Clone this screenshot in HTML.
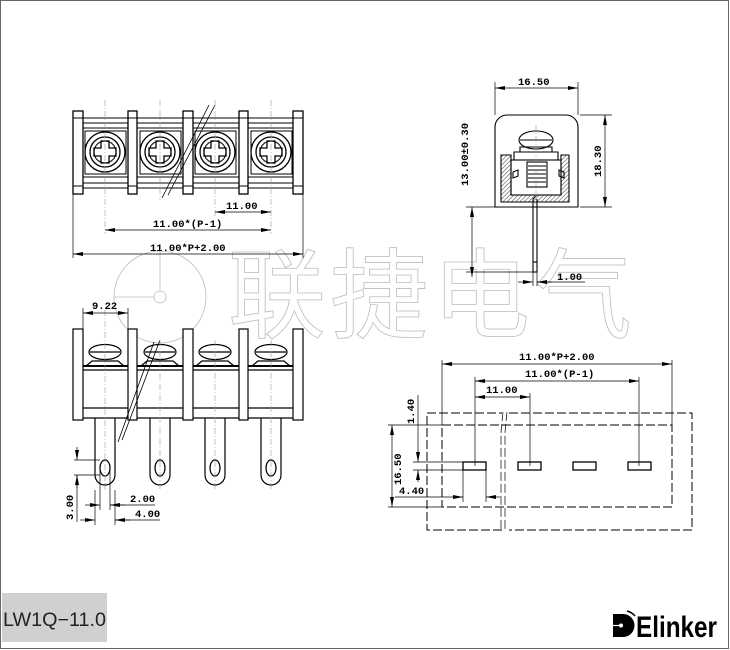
<!DOCTYPE html>
<html><head><meta charset="utf-8"><style>
html,body{margin:0;padding:0;background:#fff}
svg{display:block}
.d{font-family:"Liberation Mono",monospace;font-weight:bold;font-size:10.5px;fill:#000}
</style></head><body>
<svg width="730" height="650" viewBox="0 0 730 650" xmlns="http://www.w3.org/2000/svg">
<defs>
<marker id="a" viewBox="0 0 10 4" refX="10" refY="2" markerWidth="10" markerHeight="4" orient="auto-start-reverse" markerUnits="userSpaceOnUse"><path d="M0,0L10,2L0,4z" fill="#000"/></marker>
<pattern id="h" width="3" height="3" patternUnits="userSpaceOnUse" patternTransform="rotate(45)"><rect width="3" height="3" fill="#fff"/><line x1="0" y1="0" x2="0" y2="3" stroke="#555" stroke-width="1.2"/></pattern>
</defs>
<rect x="0.5" y="0.5" width="728" height="648" fill="none" stroke="#666" stroke-width="1"/>

<!-- watermark -->
<g fill="none" stroke="#bbb" stroke-width="0.8">
<circle cx="160" cy="297" r="46"/><circle cx="160" cy="297" r="6"/>
<line x1="160" y1="250" x2="160" y2="291"/><line x1="114" y1="297" x2="154" y2="297"/>
</g>
<text x="228" y="330" font-family="'Noto Sans CJK SC',sans-serif" font-size="98" fill="#fff" stroke="#bbb" stroke-width="0.8" letter-spacing="4">联捷电气</text>

<!-- TOP LEFT VIEW -->
<g stroke="#000" fill="none" stroke-width="1">
<line x1="83" y1="118" x2="293" y2="118"/><line x1="83" y1="123" x2="293" y2="123"/>
<line x1="83" y1="128" x2="293" y2="128"/>
<line x1="83" y1="177" x2="293" y2="177"/><line x1="83" y1="183" x2="293" y2="183"/>
<line x1="83" y1="188" x2="293" y2="188"/>
<g stroke-width="1.3">
<rect x="73" y="111" width="10" height="83" fill="#fff"/><rect x="128" y="111" width="9" height="83" fill="#fff"/>
<rect x="183" y="111" width="10" height="83" fill="#fff"/><rect x="239" y="111" width="9" height="83" fill="#fff"/>
<rect x="293" y="111" width="10" height="83" fill="#fff"/>
</g>
<line x1="73" y1="118" x2="83" y2="118"/><line x1="73" y1="186" x2="83" y2="186"/>
<line x1="128" y1="118" x2="137" y2="118"/><line x1="128" y1="186" x2="137" y2="186"/>
<line x1="183" y1="118" x2="193" y2="118"/><line x1="183" y1="186" x2="193" y2="186"/>
<line x1="239" y1="118" x2="248" y2="118"/><line x1="239" y1="186" x2="248" y2="186"/>
<line x1="293" y1="118" x2="303" y2="118"/><line x1="293" y1="186" x2="303" y2="186"/>
<g id="sc">
<rect x="85" y="131" width="41" height="43"/>
<circle cx="105" cy="152" r="20" stroke-width="1.3"/>
<circle cx="105" cy="152" r="15" stroke-width="1.3"/>
<circle cx="105" cy="152" r="11"/>
<path d="M101,141h8v7h7v8h-7v7h-8v-7h-7v-8h7z" stroke-width="1.3"/>
</g>
<use href="#sc" x="55"/><use href="#sc" x="110"/><use href="#sc" x="166"/>
<path d="M215,105L168,195M209,105L162,198" stroke-width="0.8"/>
</g>
<g stroke="#999" stroke-width="0.6" stroke-dasharray="6,2,1,2" fill="none">
<line x1="105" y1="100" x2="105" y2="234"/><line x1="160" y1="100" x2="160" y2="200"/>
<line x1="215" y1="100" x2="215" y2="216"/><line x1="271" y1="100" x2="271" y2="234"/>
</g>
<g stroke="#000" stroke-width="0.7" fill="none">
<line x1="73" y1="194" x2="73" y2="258"/><line x1="303" y1="194" x2="303" y2="258"/>
<line x1="215" y1="212" x2="271" y2="212" marker-start="url(#a)" marker-end="url(#a)"/>
<line x1="105" y1="230" x2="271" y2="230" marker-start="url(#a)" marker-end="url(#a)"/>
<line x1="73" y1="254" x2="303" y2="254" marker-start="url(#a)" marker-end="url(#a)"/>
</g>
<text class="d" x="226" y="209">11.00</text>
<text class="d" x="153" y="227">11.00*(P-1)</text>
<text class="d" x="150" y="251">11.00*P+2.00</text>

<!-- BOTTOM LEFT VIEW -->
<g stroke="#000" fill="none" stroke-width="1.2">
<line x1="83" y1="366" x2="293" y2="366" stroke-width="2"/><line x1="83" y1="370" x2="293" y2="370"/>
<line x1="83" y1="408" x2="293" y2="408"/><line x1="83" y1="418" x2="293" y2="418"/>
<rect x="73" y="329" width="10" height="91" fill="#fff"/><rect x="128" y="329" width="9" height="91" fill="#fff"/>
<rect x="183" y="329" width="10" height="91" fill="#fff"/><rect x="239" y="329" width="9" height="91" fill="#fff"/>
<rect x="293" y="329" width="10" height="91" fill="#fff"/>
<g id="pn">
<ellipse cx="105" cy="352" rx="16" ry="7.5"/><line x1="90" y1="352" x2="120" y2="352"/>
<path d="M86,366l6,-5h26l6,5" />
<path d="M95,418v57a10,10 0 0 0 20,0v-57"/>
<ellipse cx="105" cy="468" rx="5" ry="8"/>
</g>
<use href="#pn" x="55"/><use href="#pn" x="110"/><use href="#pn" x="166"/>
<path d="M160,340L122,440M154,342L118,442" stroke-width="0.8"/>
</g>
<g stroke="#999" stroke-width="0.6" stroke-dasharray="6,2,1,2">
<line x1="105" y1="310" x2="105" y2="490"/><line x1="160" y1="340" x2="160" y2="490"/>
<line x1="215" y1="340" x2="215" y2="490"/><line x1="271" y1="340" x2="271" y2="490"/>
</g>
<g stroke="#000" stroke-width="0.7" fill="none">
<line x1="83" y1="308" x2="83" y2="329"/><line x1="128" y1="308" x2="128" y2="329"/>
<line x1="83" y1="313" x2="128" y2="313" marker-start="url(#a)" marker-end="url(#a)"/>
<line x1="74" y1="460" x2="100" y2="460"/><line x1="74" y1="475" x2="100" y2="475"/>
<line x1="77" y1="447" x2="77" y2="460" marker-end="url(#a)"/><line x1="77" y1="488" x2="77" y2="475" marker-end="url(#a)"/>
<line x1="77" y1="475" x2="77" y2="522"/>
<line x1="100" y1="465" x2="100" y2="510"/><line x1="110" y1="465" x2="110" y2="510"/>
<line x1="95" y1="490" x2="95" y2="525"/><line x1="115" y1="490" x2="115" y2="525"/>
<line x1="85" y1="505" x2="100" y2="505" marker-end="url(#a)"/><line x1="125" y1="505" x2="110" y2="505" marker-end="url(#a)"/>
<line x1="110" y1="505" x2="155" y2="505"/>
<line x1="80" y1="520" x2="95" y2="520" marker-end="url(#a)"/><line x1="130" y1="520" x2="115" y2="520" marker-end="url(#a)"/>
<line x1="115" y1="520" x2="160" y2="520"/>
</g>
<text class="d" x="92" y="309">9.22</text>
<text class="d" x="130" y="502">2.00</text>
<text class="d" x="135" y="517">4.00</text>
<text class="d" transform="translate(73,520) rotate(-90)">3.00</text>

<!-- TOP RIGHT VIEW -->
<g stroke="#000" fill="none" stroke-width="1.1">
<path d="M495,207V127a12,12 0 0 1 12,-12h59a12,12 0 0 1 12,12v80z"/>
<path d="M501,202V155h10v40h50v-40h8v47z" fill="url(#h)"/>
<rect x="511" y="160" width="50" height="35"/>
<ellipse cx="536" cy="140" rx="17" ry="9" fill="#fff"/><line x1="520" y1="140" x2="552" y2="140"/>
<path d="M514,160v-8h44v8"/><path d="M520,152v-5h32v5"/>
<rect x="527" y="162" width="20" height="25"/>
<path d="M528,166h18M528,170h18M528,174h18M528,178h18M528,182h18"/>
<path d="M513,172l5,-2v6l-5,2zM559,170l5,2v6l-5,-2z"/>
<path d="M533,207v-8l4,-4M537,207v-8"/>
<rect x="533" y="207" width="4" height="65"/>
<line x1="533" y1="262" x2="537" y2="262"/>
</g>
<line x1="536" y1="125" x2="536" y2="205" stroke="#999" stroke-width="0.6" stroke-dasharray="6,2,1,2"/>
<g stroke="#000" stroke-width="0.7" fill="none">
<line x1="495" y1="82" x2="495" y2="115"/><line x1="578" y1="82" x2="578" y2="115"/>
<line x1="495" y1="88" x2="578" y2="88" marker-start="url(#a)" marker-end="url(#a)"/>
<line x1="580" y1="115" x2="612" y2="115"/><line x1="580" y1="207" x2="612" y2="207"/>
<line x1="605" y1="115" x2="605" y2="207" marker-start="url(#a)" marker-end="url(#a)"/>
<line x1="466" y1="207" x2="495" y2="207"/><line x1="466" y1="272" x2="533" y2="272"/>
<line x1="472" y1="207" x2="472" y2="277" marker-start="url(#a)" marker-end="url(#a)"/>
<line x1="533" y1="272" x2="533" y2="286"/><line x1="537" y1="272" x2="537" y2="286"/>
<line x1="518" y1="282" x2="533" y2="282" marker-end="url(#a)"/><line x1="552" y1="282" x2="537" y2="282" marker-end="url(#a)"/>
<line x1="537" y1="282" x2="585" y2="282"/>
</g>
<text class="d" x="518" y="85">16.50</text>
<text class="d" transform="translate(601,177) rotate(-90)">18.30</text>
<text class="d" transform="translate(468,186) rotate(-90)">13.00±0.30</text>
<text class="d" x="557" y="280">1.00</text>

<!-- BOTTOM RIGHT VIEW -->
<g stroke="#000" fill="none" stroke-width="1">
<path d="M442,425H672V507H442z" stroke-dasharray="9,3"/>
<path d="M427,413H502M509,413H692V530H509M502,530H427V413" stroke-dasharray="9,3"/>
<path d="M503,412l-2,20v100M507,412l-2,20v100" stroke-dasharray="9,3" stroke-width="0.7"/>
<rect x="463" y="462" width="23" height="8" stroke-width="1.3"/>
<rect x="518" y="462" width="23" height="8" stroke-width="1.3"/>
<rect x="573" y="462" width="23" height="8" stroke-width="1.3"/>
<rect x="628" y="462" width="23" height="8" stroke-width="1.3"/>
</g>
<g stroke="#000" stroke-width="0.7" fill="none">
<line x1="442" y1="360" x2="442" y2="425"/><line x1="672" y1="360" x2="672" y2="425"/>
<line x1="442" y1="364" x2="672" y2="364" marker-start="url(#a)" marker-end="url(#a)"/>
<line x1="475" y1="377" x2="475" y2="466"/><line x1="639" y1="377" x2="639" y2="466"/>
<line x1="530" y1="393" x2="530" y2="466"/>
<line x1="475" y1="381" x2="639" y2="381" marker-start="url(#a)" marker-end="url(#a)"/>
<line x1="475" y1="397" x2="530" y2="397" marker-start="url(#a)" marker-end="url(#a)"/>
<line x1="388" y1="425" x2="442" y2="425"/><line x1="388" y1="507" x2="442" y2="507"/>
<line x1="392" y1="425" x2="392" y2="507" marker-start="url(#a)" marker-end="url(#a)"/>
<line x1="413" y1="462" x2="463" y2="462"/><line x1="413" y1="470" x2="463" y2="470"/>
<line x1="418" y1="395" x2="418" y2="462" marker-end="url(#a)"/><line x1="418" y1="482" x2="418" y2="470" marker-end="url(#a)"/>
<line x1="463" y1="470" x2="463" y2="502"/><line x1="486" y1="470" x2="486" y2="502"/>
<line x1="395" y1="497" x2="463" y2="497" marker-end="url(#a)"/><line x1="500" y1="497" x2="486" y2="497" marker-end="url(#a)"/>
</g>
<text class="d" x="519" y="360">11.00*P+2.00</text>
<text class="d" x="525" y="377">11.00*(P-1)</text>
<text class="d" x="486" y="393">11.00</text>
<text class="d" transform="translate(401,485) rotate(-90)">16.50</text>
<text class="d" transform="translate(414,424) rotate(-90)">1.40</text>
<text class="d" x="399" y="494">4.40</text>

<!-- footer -->
<rect x="2" y="593" width="105" height="49" fill="#d0d0d0"/>
<text x="3" y="626" font-family="'Liberation Sans',sans-serif" font-size="19" fill="#222" textLength="103" lengthAdjust="spacingAndGlyphs">LW1Q−11.0</text>
<g>
<path d="M613,614h10a11.5,11.5 0 0 1 0,23h-10z" fill="#000"/>
<circle cx="621" cy="625.5" r="2" fill="#fff"/>
<line x1="613" y1="625.5" x2="619" y2="625.5" stroke="#fff" stroke-width="1.2"/>
<path d="M627,611a15,15 0 0 1 8,5" stroke="#000" stroke-width="1.5" fill="none"/>
</g>
<text x="636" y="637" font-family="'Liberation Sans',sans-serif" font-weight="bold" font-size="30" fill="#000" textLength="81" lengthAdjust="spacingAndGlyphs">Elinker</text>
</svg>
</body></html>
